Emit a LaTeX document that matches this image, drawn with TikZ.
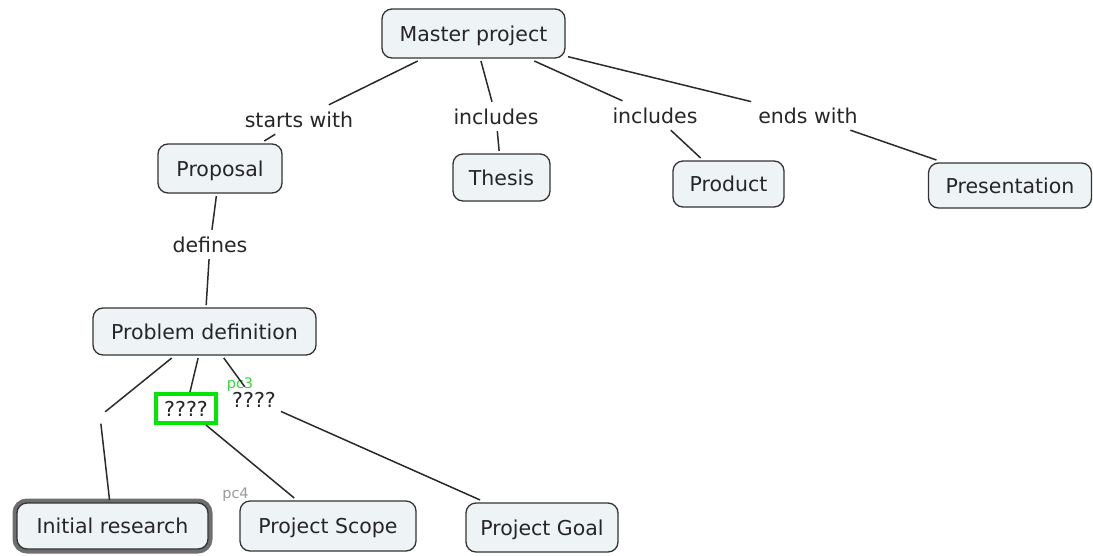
\documentclass[tikz,border=0pt]{standalone}
\usepackage{fontspec}
\setmainfont{DejaVu Sans}
\begin{document}
\definecolor{boxfill}{HTML}{EEF3F6}
\definecolor{boxline}{HTML}{333333}
\definecolor{inktext}{HTML}{262626}
\definecolor{linkline}{HTML}{2A2A2A}
\definecolor{markgreen}{HTML}{00E600}
\definecolor{taggreen}{HTML}{3CD23C}
\definecolor{taggray}{HTML}{9A9A9A}
\definecolor{focusgray}{HTML}{6E6E6E}
\begin{tikzpicture}[x=1pt,y=-1pt,
  font=\fontsize{20.5}{24}\selectfont, text=inktext,
  concept/.style={draw=boxline, line width=1.3pt, fill=boxfill,
    rounded corners=10pt, inner sep=0pt, outer sep=3pt,
    text height=15pt, text depth=0pt},
  linker/.style={inner sep=7pt, text height=15pt, text depth=0pt, anchor=base},
  conn/.style={draw=linkline, line width=1.5pt},
  tag/.style={font=\fontsize{14.5}{15}\selectfont, inner sep=0pt}]
\useasboundingbox (0,0) rectangle (1093,555);

% concepts
\node[concept, minimum width=183pt, minimum height=49pt] (master) at (473.5,33.5) {Master project};
\node[concept, minimum width=124pt, minimum height=49pt] (proposal) at (220,168.5) {Proposal};
\node[concept, minimum width=97pt, minimum height=47pt] (thesis) at (501.5,177.5) {Thesis};
\node[concept, minimum width=111pt, minimum height=46pt] (product) at (728.5,184) {Product};
\node[concept, minimum width=163pt, minimum height=45pt] (presentation) at (1010,185.5) {Presentation};
\node[concept, minimum width=223pt, minimum height=47pt] (problem) at (204.5,331.5) {Problem definition};
\node[concept, minimum width=191pt, minimum height=46pt,
      preaction={draw=focusgray, line width=9pt}] (initial) at (112.5,526) {Initial research};
\node[concept, minimum width=176pt, minimum height=50pt] (scope) at (328,526) {Project Scope};
\node[concept, minimum width=152pt, minimum height=49pt] (goal) at (542,527.5) {Project Goal};

% linking phrases
\node[linker] (startswith) at (299,127) {starts with};
\node[linker] (includesA) at (496,124) {includes};
\node[linker] (includesB) at (655,123) {includes};
\node[linker] (endswith) at (808,123) {ends with};
\node[linker] (defines) at (210,252) {defines};
\node[inner sep=0pt, minimum width=10pt, minimum height=15pt] (blank) at (100,416) {};
\node[draw=markgreen, line width=4pt, fill=white, inner sep=0pt,
      minimum width=60pt, minimum height=29pt, text height=15pt, text depth=0pt]
      (qboxed) at (186,408.5) {????};
\node[inner sep=5pt, text height=15pt, text depth=0pt] (qplain) at (254,399.5) {????};

% small tags
\node[tag, text=taggreen] (tagthree) at (240,385) {pc3};
\node[tag, text=taggray] (tagfour) at (235.5,495) {pc4};

% connectors
\draw[conn] (master) -- (startswith);
\draw[conn] (startswith) -- (proposal);
\draw[conn] (master) -- (includesA);
\draw[conn] (includesA) -- (thesis);
\draw[conn] (master) -- (includesB);
\draw[conn] (includesB) -- (product);
\draw[conn] (master) -- (endswith);
\draw[conn] (endswith) -- (presentation);
\draw[conn] (proposal) -- (defines);
\draw[conn] (defines) -- (problem);
\draw[conn] (problem) -- (blank);
\draw[conn] (blank) -- (initial);
\draw[conn] (problem) -- (qboxed);
\draw[conn] (qboxed) -- (scope);
\draw[conn] (problem) -- (qplain);
\draw[conn] (qplain) -- (goal);
\end{tikzpicture}
\end{document}
